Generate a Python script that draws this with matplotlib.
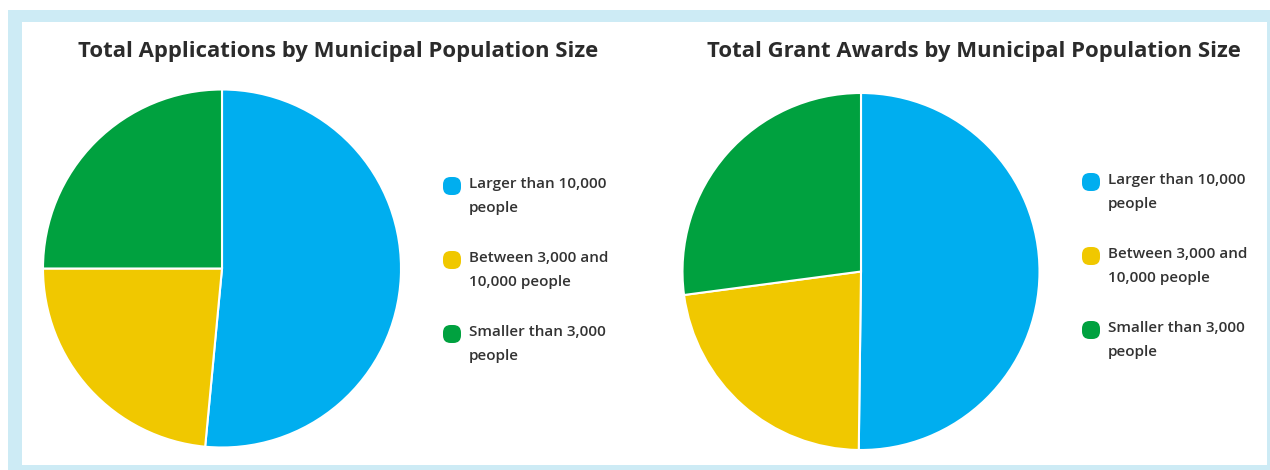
import matplotlib
matplotlib.use("Agg")
import matplotlib.pyplot as plt
from matplotlib.patches import Rectangle, FancyBboxPatch

# data
categories = ["Larger than 10,000\npeople", "Between 3,000 and\n10,000 people", "Smaller than 3,000\npeople"]
colors = ["#00aeef", "#f0c800", "#00a13f"]
applications = [51.5, 23.5, 25.0]
awards = [50.2, 22.7, 27.1]
titles = ["Total Applications by Municipal Population Size",
          "Total Grant Awards by Municipal Population Size"]

W, H = 1270, 470
plt.rcParams['font.family'] = ['Open Sans', 'DejaVu Sans']
fig = plt.figure(figsize=(W / 100, H / 100), dpi=100)
fig.patch.set_facecolor("white")

# light blue frame
fig.patches.append(Rectangle((8 / W, 0), 1 - 8 / W, 1 - 10 / H, transform=fig.transFigure,
                             facecolor="#cdebf5", edgecolor="none", zorder=-2))
fig.patches.append(Rectangle((22 / W, 5 / H), (1267 - 22) / W, (470 - 22 - 5) / H,
                             transform=fig.transFigure, facecolor="white", edgecolor="none", zorder=-1))


def pie_panel(values, title, cx, cy, r, title_x, leg_x, leg_ys):
    ax = fig.add_axes([(cx - r) / W, (H - cy - r) / H, 2 * r / W, 2 * r / H])
    ax.pie(values, colors=colors, startangle=90, counterclock=False,
           wedgeprops=dict(edgecolor="white", linewidth=1.5))
    ax.set_xlim(-1, 1)
    ax.set_ylim(-1, 1)
    ax.axis("off")
    fig.text(title_x / W, 1 - 51 / H, title, ha="center", va="center",
             fontsize=15.9, fontweight="bold", color="#2b2b2b")
    for lab, col, y in zip(categories, colors, leg_ys):
        s = 18
        fig.patches.append(FancyBboxPatch(((leg_x) / W, (H - y - s / 2) / H), s / W, s / H,
                                          boxstyle="round,pad=0,rounding_size=0.006",
                                          transform=fig.transFigure, facecolor=col,
                                          edgecolor="none", mutation_aspect=W / H))
        fig.text((leg_x + 26) / W, 1 - (y - 9) / H, lab, ha="left", va="top",
                 fontsize=11, fontweight="semibold", color="#333333", linespacing=1.9)


pie_panel(applications, titles[0], 222, 268.5, 179, 338, 443, [186, 260, 334])
pie_panel(awards, titles[1], 861, 271.5, 178.5, 974, 1082, [182, 256, 330])

fig.savefig("out.png", dpi=100)
